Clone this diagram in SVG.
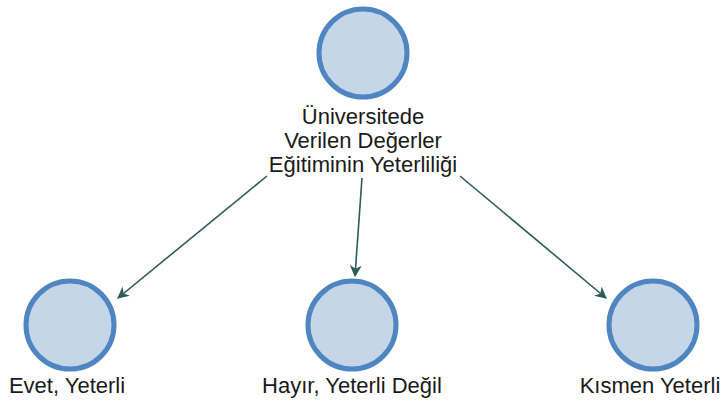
<svg xmlns="http://www.w3.org/2000/svg" width="722" height="401" viewBox="0 0 722 401">
<defs>
<style>
.node circle{fill:#c5d6e9;stroke:#4f85c1;stroke-width:5}
.lbl{font-family:"Liberation Sans",Arial,sans-serif;font-size:22px;fill:#1a1a1a;text-anchor:middle}
.edge{stroke:#2e5c58;stroke-width:1.6;fill:none;marker-end:url(#arr)}
</style>
<marker id="arr" viewBox="0 0 10 10" refX="9" refY="5" markerWidth="12" markerHeight="12" markerUnits="userSpaceOnUse" orient="auto">
<path d="M0,0 L10,5 L0,10 L3,5 Z" fill="#2e5c58"/>
</marker>
</defs>
<rect width="722" height="401" fill="#ffffff"/>
<g id="edges">
<path class="edge" d="M267,176 L118,298"/>
<path class="edge" d="M362,178 L355,276"/>
<path class="edge" d="M460,176 L606,298"/>
</g>
<g id="n0" class="node">
<circle cx="363" cy="53" r="44"/>
<text class="lbl" x="363" y="124">Üniversitede</text>
<text class="lbl" x="363" y="148">Verilen Değerler</text>
<text class="lbl" x="363" y="172">Eğitiminin Yeterliliği</text>
</g>
<g id="n1" class="node">
<circle cx="70" cy="325" r="44"/>
<text class="lbl" x="67" y="393">Evet, Yeterli</text>
</g>
<g id="n2" class="node">
<circle cx="352" cy="325" r="44"/>
<text class="lbl" x="352" y="393">Hayır, Yeterli Değil</text>
</g>
<g id="n3" class="node">
<circle cx="653" cy="325" r="44"/>
<text class="lbl" x="650" y="393">Kısmen Yeterli</text>
</g>
</svg>
